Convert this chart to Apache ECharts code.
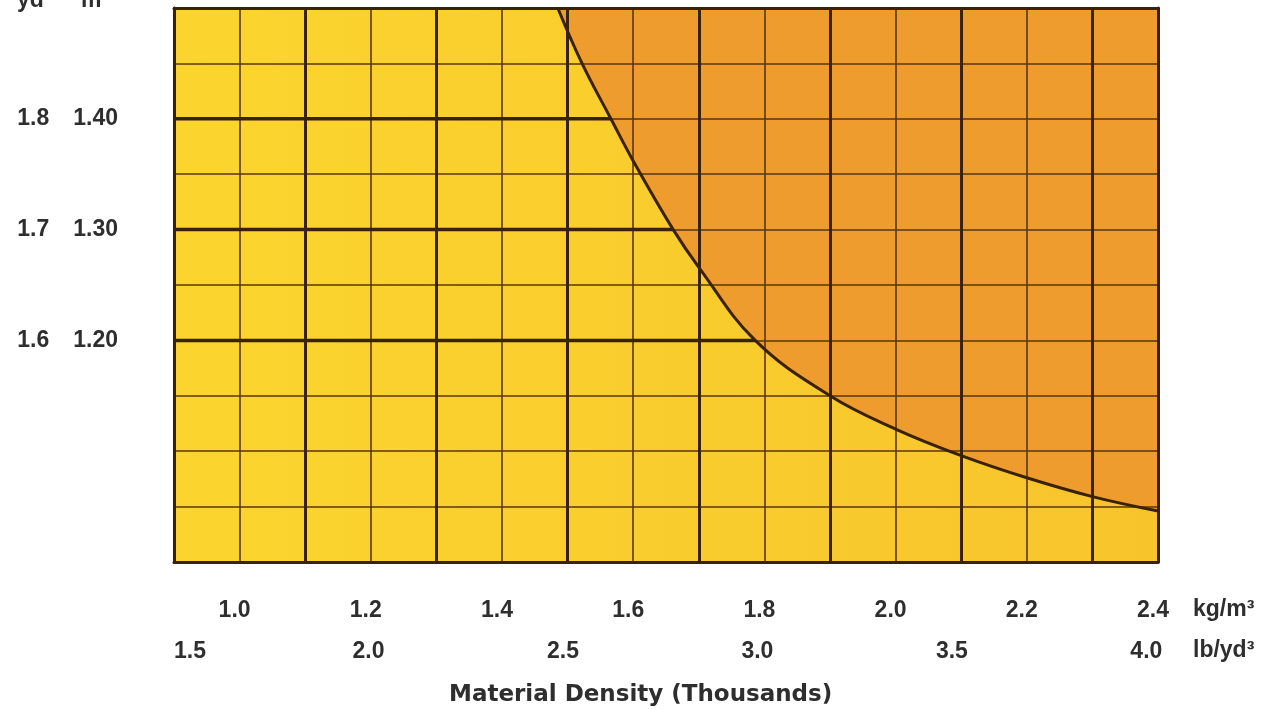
<!DOCTYPE html>
<html>
<head>
<meta charset="utf-8">
<title>Material Density</title>
<script src="https://cdn.jsdelivr.net/npm/echarts@6/dist/echarts.min.js"></script>
<style>
  html, body { margin: 0; padding: 0; background: #fff; }
  #chart { width: 1261px; height: 709px; }
</style>
</head>
<body>
<div id="chart"></div>
<script>
// curve: material density (thousands kg/m3) against volume (m3)
const densityKg = [1.485, 1.522, 1.566, 1.60, 1.661, 1.70, 1.786, 1.90, 2.00, 2.10, 2.20, 2.30, 2.40]
const volumeM3 = [1.50, 1.45, 1.40, 1.362, 1.30, 1.266, 1.20, 1.15, 1.12, 1.096, 1.076, 1.059, 1.046]

const kgTicks = [1.0, 1.2, 1.4, 1.6, 1.8, 2.0, 2.2, 2.4]
const lbTicks = [1.5, 2.0, 2.5, 3.0, 3.5, 4.0]
const m3Ticks = [1.20, 1.30, 1.40]
const yd3Ticks = [1.6, 1.7, 1.8]
// heavy vertical rules
const heavyKg = [1.1, 1.3, 1.5, 1.7, 1.9, 2.1, 2.3]
// heavy horizontal rules go from the left edge to the curve (index into curve arrays)
const ruleIdx = [6, 4, 2]

const numFont = "'Liberation Sans', Arial, sans-serif"
const numSize = 23
const textColor = '#2e2e2e'
const thinColor = '#5a3612'
const heavyColor = '#3a2208'

function near (list, v) {
  return list.findIndex(t => Math.abs(t - v) < 1e-6)
}

const chart = echarts.init(document.getElementById('chart'))

chart.setOption({
  animation: false,
  title: {
    text: 'Material Density (Thousands)',
    left: 444,
    top: 679,
    textStyle: {
      fontFamily: "'DejaVu Sans', sans-serif",
      fontWeight: 'bold',
      fontSize: 23,
      color: textColor
    }
  },
  grid: {
    left: 174,
    right: 103,
    top: 8,
    bottom: 147,
    show: true,
    borderWidth: 0,
    backgroundColor: new echarts.graphic.LinearGradient(0, 0, 1, 0, [
      { offset: 0, color: '#fbd52e' },
      { offset: 1, color: '#f7c42c' }
    ])
  },
  xAxis: [{
    type: 'value',
    min: 0.9,
    max: 2.4,
    interval: 0.1,
    position: 'bottom',
    z: 3,
    axisLine: { show: true, onZero: false, lineStyle: { color: heavyColor, width: 3 } },
    axisTick: { show: false },
    splitLine: { show: true, lineStyle: { color: thinColor, width: 1.6 } },
    axisLabel: {
      margin: 37,
      padding: [0, 10, 0, 0],
      fontFamily: numFont,
      fontWeight: 'bold',
      fontSize: numSize,
      color: textColor,
      formatter: v => {
        const i = near(kgTicks, v)
        return i < 0 ? '' : kgTicks[i].toFixed(1)
      }
    }
  }, {
    // lb/yd3 scale
    type: 'value',
    min: 1.5,
    max: 4.03,
    interval: 0.5,
    position: 'bottom',
    axisLine: { show: false },
    axisTick: { show: false },
    splitLine: { show: false },
    axisLabel: {
      margin: 78,
      showMaxLabel: false,
      alignMinLabel: 'left',
      fontFamily: numFont,
      fontWeight: 'bold',
      fontSize: numSize,
      color: textColor,
      formatter: v => {
        const i = near(lbTicks, v)
        return i < 0 ? '' : lbTicks[i].toFixed(1)
      }
    }
  }, {
    type: 'value',
    min: 0.9,
    max: 2.4,
    position: 'top',
    z: 3,
    axisLine: { show: true, lineStyle: { color: heavyColor, width: 3 } },
    axisTick: { show: false },
    axisLabel: { show: false },
    splitLine: { show: false }
  }],
  yAxis: [{
    type: 'value',
    min: 1.0,
    max: 1.5,
    interval: 0.05,
    position: 'left',
    z: 3,
    axisLine: { show: true, onZero: false, lineStyle: { color: heavyColor, width: 3 } },
    axisTick: { show: false },
    splitLine: { show: true, lineStyle: { color: thinColor, width: 1.6 } },
    axisLabel: {
      margin: 56,
      fontFamily: numFont,
      fontWeight: 'bold',
      fontSize: numSize,
      color: textColor,
      formatter: v => {
        const i = near(m3Ticks, v)
        return i < 0 ? '' : '{yd|' + yd3Ticks[i].toFixed(1) + '}{m|' + m3Ticks[i].toFixed(2) + '}'
      },
      rich: {
        yd: { width: 56, align: 'left', fontFamily: numFont, fontWeight: 'bold', fontSize: numSize, color: textColor },
        m: { fontFamily: numFont, fontWeight: 'bold', fontSize: numSize, color: textColor }
      }
    }
  }, {
    type: 'value',
    min: 1.0,
    max: 1.5,
    position: 'right',
    z: 3,
    axisLine: { show: true, lineStyle: { color: heavyColor, width: 3 } },
    axisTick: { show: false },
    axisLabel: { show: false },
    splitLine: { show: false }
  }],
  graphic: [
    { type: 'text', x: 17, y: 1, style: { text: 'yd³', font: 'bold ' + numSize + 'px ' + numFont, fill: textColor, verticalAlign: 'middle' } },
    { type: 'text', x: 81, y: 1, style: { text: 'm³', font: 'bold ' + numSize + 'px ' + numFont, fill: textColor, verticalAlign: 'middle' } },
    { type: 'text', x: 1193, y: 610, style: { text: 'kg/m³', font: 'bold ' + numSize + 'px ' + numFont, fill: textColor, verticalAlign: 'middle' } },
    { type: 'text', x: 1193, y: 651, style: { text: 'lb/yd³', font: 'bold ' + numSize + 'px ' + numFont, fill: textColor, verticalAlign: 'middle' } }
  ],
  series: [{
    // shaded zone above the curve
    type: 'line',
    data: densityKg.map((x, i) => [x, volumeM3[i]]),
    smooth: 0.4,
    showSymbol: false,
    lineStyle: { width: 0 },
    areaStyle: { origin: 'end', color: '#ee9c2e', opacity: 1 },
    z: 2,
    silent: true
  }, {
    type: 'line',
    data: densityKg.map((x, i) => [x, volumeM3[i]]),
    smooth: 0.4,
    showSymbol: false,
    lineStyle: { color: heavyColor, width: 3 },
    z: 5,
    silent: true
  }, {
    type: 'line',
    data: [],
    z: 4,
    silent: true,
    markLine: {
      silent: true,
      symbol: ['none', 'none'],
      label: { show: false },
      lineStyle: { type: 'solid', color: heavyColor, width: 3 },
      data: heavyKg.map(v => ({ xAxis: v }))
    }
  }].concat(ruleIdx.map(i => ({
    type: 'line',
    data: [[0.9, volumeM3[i]], [densityKg[i], volumeM3[i]]],
    showSymbol: false,
    lineStyle: { color: heavyColor, width: 3.5 },
    z: 4,
    silent: true
  })))
})
</script>
</body>
</html>
